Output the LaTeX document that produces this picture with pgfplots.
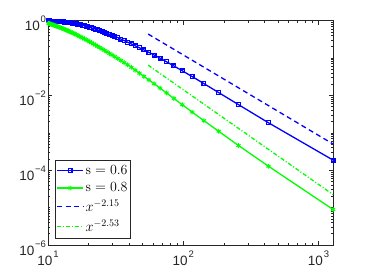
\documentclass[border=0pt]{standalone}
\usepackage{fontspec}
\usepackage{pgfplots}
\usepackage{pgfplotstable}
\pgfplotsset{compat=1.18}
\newfontfamily\helv{Liberation Sans}
\definecolor{mblue}{rgb}{0,0,1}
\definecolor{mgreen}{rgb}{0,1,0}
\definecolor{axgray}{rgb}{0.15,0.15,0.15}
\newcommand{\tl}[1]{10\kern0.8pt\raisebox{8pt}{\fontsize{9.5}{10}\selectfont #1}}

\pgfplotstableread{
x y
10.08 0.9757
10.24 0.9725
10.41 0.9694
10.58 0.9663
10.76 0.9631
10.94 0.9598
11.13 0.9566
11.33 0.9532
11.53 0.9497
11.74 0.9462
11.96 0.9428
12.19 0.9393
12.43 0.9357
12.67 0.9301
12.93 0.9209
13.20 0.9117
13.47 0.9020
13.76 0.8926
14.07 0.8829
14.38 0.8732
14.71 0.8632
15.06 0.8533
15.42 0.8432
15.80 0.8329
16.20 0.8154
16.62 0.7969
17.07 0.7782
17.53 0.7595
18.03 0.7408
18.55 0.7218
19.10 0.7031
19.69 0.6840
20.32 0.6614
20.98 0.6363
21.69 0.6114
22.46 0.5866
23.27 0.5621
24.15 0.5377
25.10 0.5134
26.12 0.4856
27.23 0.4579
28.44 0.4309
29.77 0.4044
31.22 0.3782
32.82 0.3488
34.59 0.3190
36.57 0.2902
38.79 0.2626
41.29 0.2361
44.14 0.2107
47.41 0.1867
51.20 0.1634
55.65 0.1406
60.95 0.1194
67.37 0.09845
75.29 0.07877
85.33 0.06090
98.46 0.04509
116.36 0.03177
142.22 0.02058
182.86 0.01184
256.00 0.005649
426.67 0.001849
1280 0.0001862
}\blue

\pgfplotstableread{
x y
10.08 0.8425
10.24 0.8253
10.41 0.8082
10.58 0.7910
10.76 0.7738
10.94 0.7573
11.13 0.7405
11.33 0.7239
11.53 0.7071
11.74 0.6907
11.96 0.6744
12.19 0.6580
12.43 0.6417
12.67 0.6243
12.93 0.6044
13.20 0.5852
13.47 0.5659
13.76 0.5471
14.07 0.5283
14.38 0.5099
14.71 0.4917
15.06 0.4737
15.42 0.4560
15.80 0.4385
16.20 0.4185
16.62 0.3987
17.07 0.3793
17.53 0.3602
18.03 0.3418
18.55 0.3236
19.10 0.3061
19.69 0.2889
20.32 0.2713
20.98 0.2535
21.69 0.2365
22.46 0.2199
23.27 0.2040
24.15 0.1887
25.10 0.1741
26.12 0.1594
27.23 0.1455
28.44 0.1322
29.77 0.1196
31.22 0.1077
32.82 0.09616
34.59 0.08517
36.57 0.07497
38.79 0.06546
41.29 0.05609
44.14 0.04716
47.41 0.03916
51.20 0.03205
55.65 0.02580
60.95 0.02037
67.37 0.01561
75.29 0.01155
85.33 0.008241
98.46 0.005598
116.36 0.003567
142.22 0.002100
182.86 0.001093
256.00 0.0004565
426.67 0.0001274
1280 0.000008913
}\green

\pgfplotstableread{
x y
55 0.4346
1280 0.0005005
}\bluefit

\pgfplotstableread{
x y
55 0.0641
1280 0.00002233
}\greenfit

\begin{document}
\begin{tikzpicture}
\useasboundingbox (-48pt,-31pt) rectangle (320pt,245pt);
\begin{axis}[
  at={(0pt,0pt)}, anchor=south west,
  scale only axis, width=285pt, height=224.5pt,
  xmode=log, ymode=log,
  xmin=10, xmax=1280, ymin=1e-6, ymax=1,
  axis line style={axgray, line width=0.5pt},
  every tick/.style={axgray, line width=0.5pt},
  major tick length=4pt, minor tick length=2.5pt,
  tick align=inside,
  xtick={10,100,1000},
  xticklabels={\tl{1},\tl{2},\tl{3}},
  minor xtick={20,30,40,50,60,70,80,90,200,300,400,500,600,700,800,900},
  ytick={1e-6,1e-4,1e-2,1},
  yticklabels={\tl{−6},\tl{−4},\tl{−2},\tl{0}},
  minor ytick={2e-6,3e-6,4e-6,5e-6,6e-6,7e-6,8e-6,9e-6,1e-5,2e-5,3e-5,4e-5,5e-5,6e-5,7e-5,8e-5,9e-5,
    2e-4,3e-4,4e-4,5e-4,6e-4,7e-4,8e-4,9e-4,1e-3,2e-3,3e-3,4e-3,5e-3,6e-3,7e-3,8e-3,9e-3,
    2e-2,3e-2,4e-2,5e-2,6e-2,7e-2,8e-2,9e-2,1e-1,2e-1,3e-1,4e-1,5e-1,6e-1,7e-1,8e-1,9e-1},
  tick label style={font=\helv\fontsize{13.5}{15}\selectfont, text=axgray},
  xticklabel style={yshift=-2pt},
  yticklabel style={xshift=1.5pt, yshift=-3pt},
  legend cell align=left,
  legend style={at={(0.025,0.031)}, anchor=south west,
    draw=axgray, line width=0.5pt, fill=white,
    font=\fontsize{14}{16}\selectfont, row sep=2.5pt,
    inner xsep=1pt, inner ysep=3pt},
  legend image code/.code={\draw[mark repeat=2,mark phase=2,#1] plot coordinates {(0pt,0pt) (13pt,0pt) (26pt,0pt)};},
]
\addplot[color=mblue, line width=1.3pt, mark=square, mark size=1.9pt, mark options={solid, line width=1.2pt}] table {\blue};
\addlegendentry{s${}={}$0.6}
\addplot[color=mgreen, line width=1.3pt, mark=asterisk, mark size=2.4pt, mark options={solid, line width=1pt}] table {\green};
\addlegendentry{s${}={}$0.8}
\addplot[color=mblue, line width=1.3pt, dash pattern=on 5pt off 3.5pt] table {\bluefit};
\addlegendentry{$x^{-2.15}$}
\addplot[color=mgreen, line width=1.3pt, dash pattern=on 4pt off 2pt on 1pt off 2pt] table {\greenfit};
\addlegendentry{$x^{-2.53}$}
\end{axis}
\end{tikzpicture}
\end{document}
